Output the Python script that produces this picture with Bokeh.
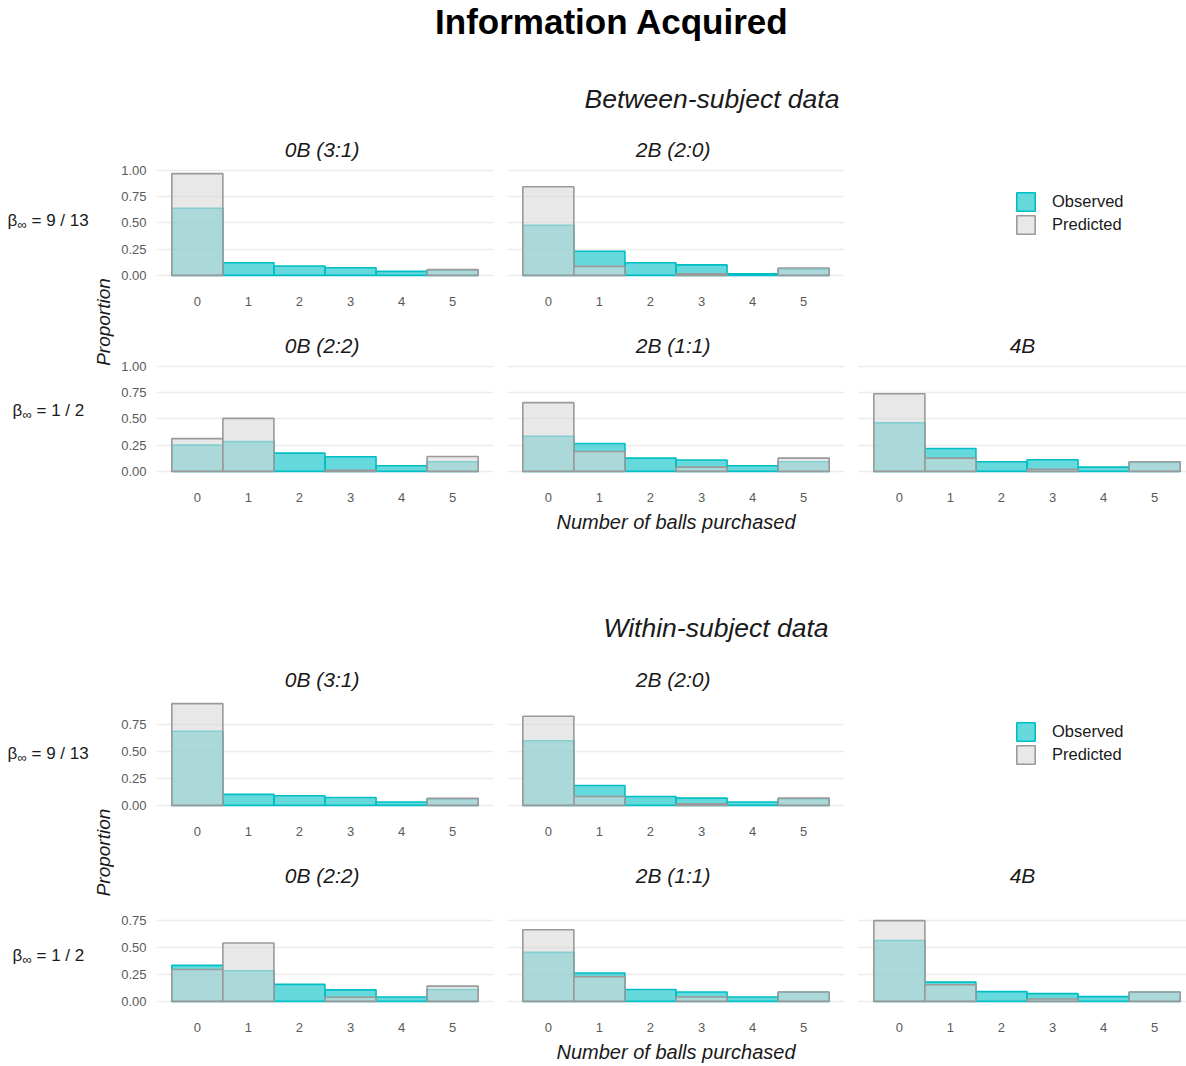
import math
import numpy as np
from bokeh.plotting import figure
from bokeh.models import (ColumnDataSource, Range1d, FixedTicker, NumeralTickFormatter,
                          Legend, LegendItem)
from bokeh.layouts import row, column
from bokeh.embed import file_html
from bokeh.resources import INLINE
from bokeh.core.properties import value

nan = float("nan")

# ---------------- data ----------------
balls = [0, 1, 2, 3, 4, 5]
y_ticks = [0.0, 0.25, 0.5, 0.75, 1.0]
legend_labels = ["Observed", "Predicted"]
panel_titles = ["0B  (3:1)", "2B  (2:0)", "0B  (2:2)", "2B  (1:1)", "4B"]
row_labels = ["9 / 13", "1 / 2"]
section_titles = ["Between-subject data", "Within-subject data"]

# Between-subject data
bs_obs_0B31 = [0.64, 0.12, 0.089, 0.073, 0.038, 0.05]
bs_pred_0B31 = [0.97, nan, nan, nan, nan, 0.055]
bs_obs_2B20 = [0.478, 0.23, 0.12, 0.10, 0.015, 0.06]
bs_pred_2B20 = [0.845, 0.086, nan, 0.015, nan, 0.07]
bs_obs_0B22 = [0.25, 0.284, 0.174, 0.139, 0.054, 0.092]
bs_pred_0B22 = [0.312, 0.505, nan, 0.01, nan, 0.142]
bs_obs_2B11 = [0.335, 0.266, 0.127, 0.108, 0.054, 0.092]
bs_pred_2B11 = [0.655, 0.19, nan, 0.041, nan, 0.127]
bs_obs_4B = [0.462, 0.218, 0.092, 0.111, 0.041, 0.085]
bs_pred_4B = [0.74, 0.127, nan, 0.02, nan, 0.092]

# Within-subject data
ws_obs_0B31 = [0.688, 0.102, 0.09, 0.074, 0.031, 0.06]
ws_pred_0B31 = [0.945, nan, nan, nan, nan, 0.065]
ws_obs_2B20 = [0.60, 0.185, 0.083, 0.068, 0.031, 0.06]
ws_pred_2B20 = [0.828, 0.083, nan, 0.015, nan, 0.068]
ws_obs_0B22 = [0.334, 0.284, 0.158, 0.107, 0.041, 0.11]
ws_pred_0B22 = [0.296, 0.542, nan, 0.038, nan, 0.142]
ws_obs_2B11 = [0.455, 0.264, 0.11, 0.088, 0.041, 0.085]
ws_pred_2B11 = [0.665, 0.229, nan, 0.041, nan, 0.088]
ws_obs_4B = [0.565, 0.179, 0.091, 0.072, 0.044, 0.085]
ws_pred_4B = [0.75, 0.154, nan, 0.022, nan, 0.088]

# ---------------- style ----------------
FONT = "Liberation Sans"
OBS_C = "#00BFC4"
PRED_FILL = "#D9D9D9"
PRED_LINE = "#9A9A9A"
GRID_C = "#EBEBEB"
TICK_C = "#5A5A5A"
TEXT_C = "#1A1A1A"

PAGE_W = 1186
LABEL_W = 114
FRAME_W = 337
FRAME_H = 112
X_START = -0.8
X_SPAN = 6.6
PX_PER_UNIT = FRAME_W / X_SPAN
TOP_B = 44
LEG_X, LEG_TOP, LEG_KEY = 156, 22, 23


def blank_fig(w, h, left=0, top=0, bottom=0):
    p = figure(width=w, height=h, x_range=Range1d(0, w - left),
               y_range=Range1d(h - top - bottom, 0),
               output_backend="svg", toolbar_location=None, title=None,
               x_axis_location=None, y_axis_location=None,
               min_border=0, min_border_left=left, min_border_right=0,
               min_border_top=top, min_border_bottom=bottom)
    p.outline_line_color = None
    p.center = []
    p.background_fill_color = "white"
    p.border_fill_color = "white"
    return p


def make_panel(title, obs, pred, yr, frame_w, left_border, height, bottom_border,
               show_y, xlabel=None):
    width = left_border + frame_w
    x_end = X_START + frame_w / PX_PER_UNIT
    p = figure(width=width, height=height, x_range=Range1d(X_START, x_end),
               y_range=Range1d(yr[0], yr[1]), output_backend="svg",
               toolbar_location=None,
               min_border_left=left_border, min_border_right=0,
               min_border_top=TOP_B, min_border_bottom=bottom_border)
    p.outline_line_color = None
    p.background_fill_color = "white"
    p.border_fill_color = "white"

    p.title.text = title
    p.title.align = "center"
    p.title.text_font = FONT
    p.title.text_font_size = "21px"
    p.title.text_font_style = "italic"
    p.title.text_color = TEXT_C
    p.title.standoff = 15

    p.xgrid.visible = False
    p.ygrid.ticker = FixedTicker(ticks=y_ticks)
    p.ygrid.grid_line_color = GRID_C
    p.ygrid.grid_line_width = 1.5

    xa = p.xaxis[0]
    xa.ticker = FixedTicker(ticks=balls)
    xa.axis_line_color = None
    xa.major_tick_line_color = None
    xa.minor_tick_line_color = None
    xa.major_tick_out = 0
    xa.major_tick_in = 0
    xa.major_label_standoff = 16
    xa.major_label_text_font = FONT
    xa.major_label_text_font_size = "13px"
    xa.major_label_text_color = TICK_C
    if xlabel:
        xa.axis_label = xlabel
        xa.axis_label_text_font = FONT
        xa.axis_label_text_font_size = "20px"
        xa.axis_label_text_font_style = "italic"
        xa.axis_label_text_color = TEXT_C
        xa.axis_label_standoff = 6

    ya = p.yaxis[0]
    ya.ticker = FixedTicker(ticks=y_ticks)
    ya.formatter = NumeralTickFormatter(format="0.00")
    ya.axis_line_color = None
    ya.major_tick_line_color = None
    ya.minor_tick_line_color = None
    ya.major_tick_out = 0
    ya.major_tick_in = 0
    ya.major_label_standoff = 10
    ya.major_label_text_font = FONT
    ya.major_label_text_font_size = "13px"
    ya.major_label_text_color = TICK_C
    if not show_y:
        ya.visible = False

    src = ColumnDataSource(dict(x=np.array(balls, dtype=float),
                                obs=np.array(obs, dtype=float),
                                pred=np.array(pred, dtype=float)))
    p.vbar(x="x", top="obs", bottom=0, width=1.0, source=src,
           fill_color=OBS_C, fill_alpha=0.6, line_color=OBS_C, line_width=1.6)
    p.vbar(x="x", top="pred", bottom=0, width=1.0, source=src,
           fill_color=PRED_FILL, fill_alpha=0.6, line_color=PRED_LINE, line_width=1.6)
    return p


def legend_fig(w, h, bottom):
    # same borders as the neighbouring panels so the row's frames stay aligned
    p = blank_fig(w, h, left=14, top=TOP_B, bottom=bottom)
    frame_h = h - TOP_B - bottom
    # tiny legend proxies, hidden underneath their own legend keys
    cx = LEG_X + LEG_KEY / 2
    cy1 = LEG_TOP + LEG_KEY / 2
    cy2 = LEG_TOP + 1.5 * LEG_KEY
    r_obs = p.vbar(x=[cx], top=[cy1 - 0.5], bottom=[cy1 + 0.5], width=1,
                   fill_color=OBS_C, fill_alpha=0.6, line_color=OBS_C, line_width=1.6)
    r_pred = p.vbar(x=[cx], top=[cy2 - 0.5], bottom=[cy2 + 0.5], width=1,
                    fill_color=PRED_FILL, fill_alpha=0.6, line_color=PRED_LINE,
                    line_width=1.6)
    leg = Legend(items=[LegendItem(label=legend_labels[0], renderers=[r_obs]),
                        LegendItem(label=legend_labels[1], renderers=[r_pred])],
                 location=(LEG_X, frame_h - LEG_TOP - 2 * LEG_KEY),
                 glyph_width=LEG_KEY, glyph_height=LEG_KEY,
                 spacing=0, padding=0, margin=0, label_standoff=15,
                 label_text_font=FONT, label_text_font_size="16.5px",
                 label_text_color=TEXT_C, border_line_color=None,
                 background_fill_color="white", background_fill_alpha=1.0)
    p.add_layout(leg)
    return p


def label_fig(h, y_row1, y_prop, y_row2, x_row1, x_row2):
    p = blank_fig(LABEL_W, h)
    for txt, xx, yy in [(row_labels[0], x_row1, y_row1), (row_labels[1], x_row2, y_row2)]:
        p.text(x=[xx], y=[yy], text=["β"], text_font=value(FONT), text_font_size="17px",
               text_baseline="middle", text_align="left", text_color=TEXT_C)
        p.text(x=[xx + 10], y=[yy + 4], text=["∞"], text_font=value(FONT), text_font_size="13px",
               text_baseline="middle", text_align="left", text_color=TEXT_C)
        p.text(x=[xx + 24], y=[yy], text=["= " + txt], text_font=value(FONT),
               text_font_size="17px", text_baseline="middle", text_align="left",
               text_color=TEXT_C)
    p.text(x=[103], y=[y_prop], text=["Proportion"], angle=math.pi / 2,
           text_font=value(FONT), text_font_size="19px", text_font_style="italic",
           text_baseline="middle", text_align="center", text_color=TEXT_C)
    return p


def section(data, row1_b, row2_b, lab_pos):
    (o1, p1), (o2, p2), (o3, p3), (o4, p4), (o5, p5) = data
    allv = np.array([o1, p1, o2, p2, o3, p3, o4, p4, o5, p5], dtype=float)
    vmax = np.nanmax(allv)
    yr = (-0.05 * vmax, 1.05 * vmax)
    row1_h = TOP_B + FRAME_H + row1_b
    row2_h = TOP_B + FRAME_H + row2_b
    f1 = make_panel(panel_titles[0], o1, p1, yr, FRAME_W, 42, row1_h, row1_b, True)
    f2 = make_panel(panel_titles[1], o2, p2, yr, FRAME_W, 14, row1_h, row1_b, False)
    used = LABEL_W + (42 + FRAME_W) + (14 + FRAME_W)
    lg = legend_fig(PAGE_W - used, row1_h, row1_b)
    f3 = make_panel(panel_titles[2], o3, p3, yr, FRAME_W, 42, row2_h, row2_b, True)
    f4 = make_panel(panel_titles[3], o4, p4, yr, FRAME_W, 14, row2_h, row2_b, False,
                    xlabel="Number of balls purchased")
    f5 = make_panel(panel_titles[4], o5, p5, yr, PAGE_W - used - 14, 14, row2_h,
                    row2_b, False)
    lab = label_fig(row1_h + row2_h, *lab_pos)
    grid = column(row(f1, f2, lg, spacing=0), row(f3, f4, f5, spacing=0), spacing=0)
    return row(lab, grid, spacing=0)


# header 1 (0 .. 124)
h1 = blank_fig(PAGE_W, 124)
h1.text(x=[611.5], y=[21], text=["Information Acquired"], text_font=value(FONT),
        text_font_size="35px", text_font_style="bold", text_align="center",
        text_baseline="middle", text_color="black")
h1.text(x=[711.5], y=[98], text=[section_titles[0]], text_font=value(FONT),
        text_font_size="26.5px", text_font_style="italic", text_align="center",
        text_baseline="middle", text_color=TEXT_C)

# section 1 (124 .. 540)
sec1 = section([(bs_obs_0B31, bs_pred_0B31), (bs_obs_2B20, bs_pred_2B20),
                (bs_obs_0B22, bs_pred_0B22), (bs_obs_2B11, bs_pred_2B11),
                (bs_obs_4B, bs_pred_4B)],
               40, 64, (96, 197.5, 286, 7, 12))

# header 2 (540 .. 654)
h2 = blank_fig(PAGE_W, 114)
h2.text(x=[715.5], y=[87], text=[section_titles[1]], text_font=value(FONT),
        text_font_size="26.5px", text_font_style="italic", text_align="center",
        text_baseline="middle", text_color=TEXT_C)

# section 2 (654 .. 1065)
sec2 = section([(ws_obs_0B31, ws_pred_0B31), (ws_obs_2B20, ws_pred_2B20),
                (ws_obs_0B22, ws_pred_0B22), (ws_obs_2B11, ws_pred_2B11),
                (ws_obs_4B, ws_pred_4B)],
               40, 59, (99, 198, 301, 7, 12))

page = column(h1, sec1, h2, sec2, spacing=0)

with open("out.html", "w") as f:
    f.write(file_html(page, INLINE))
